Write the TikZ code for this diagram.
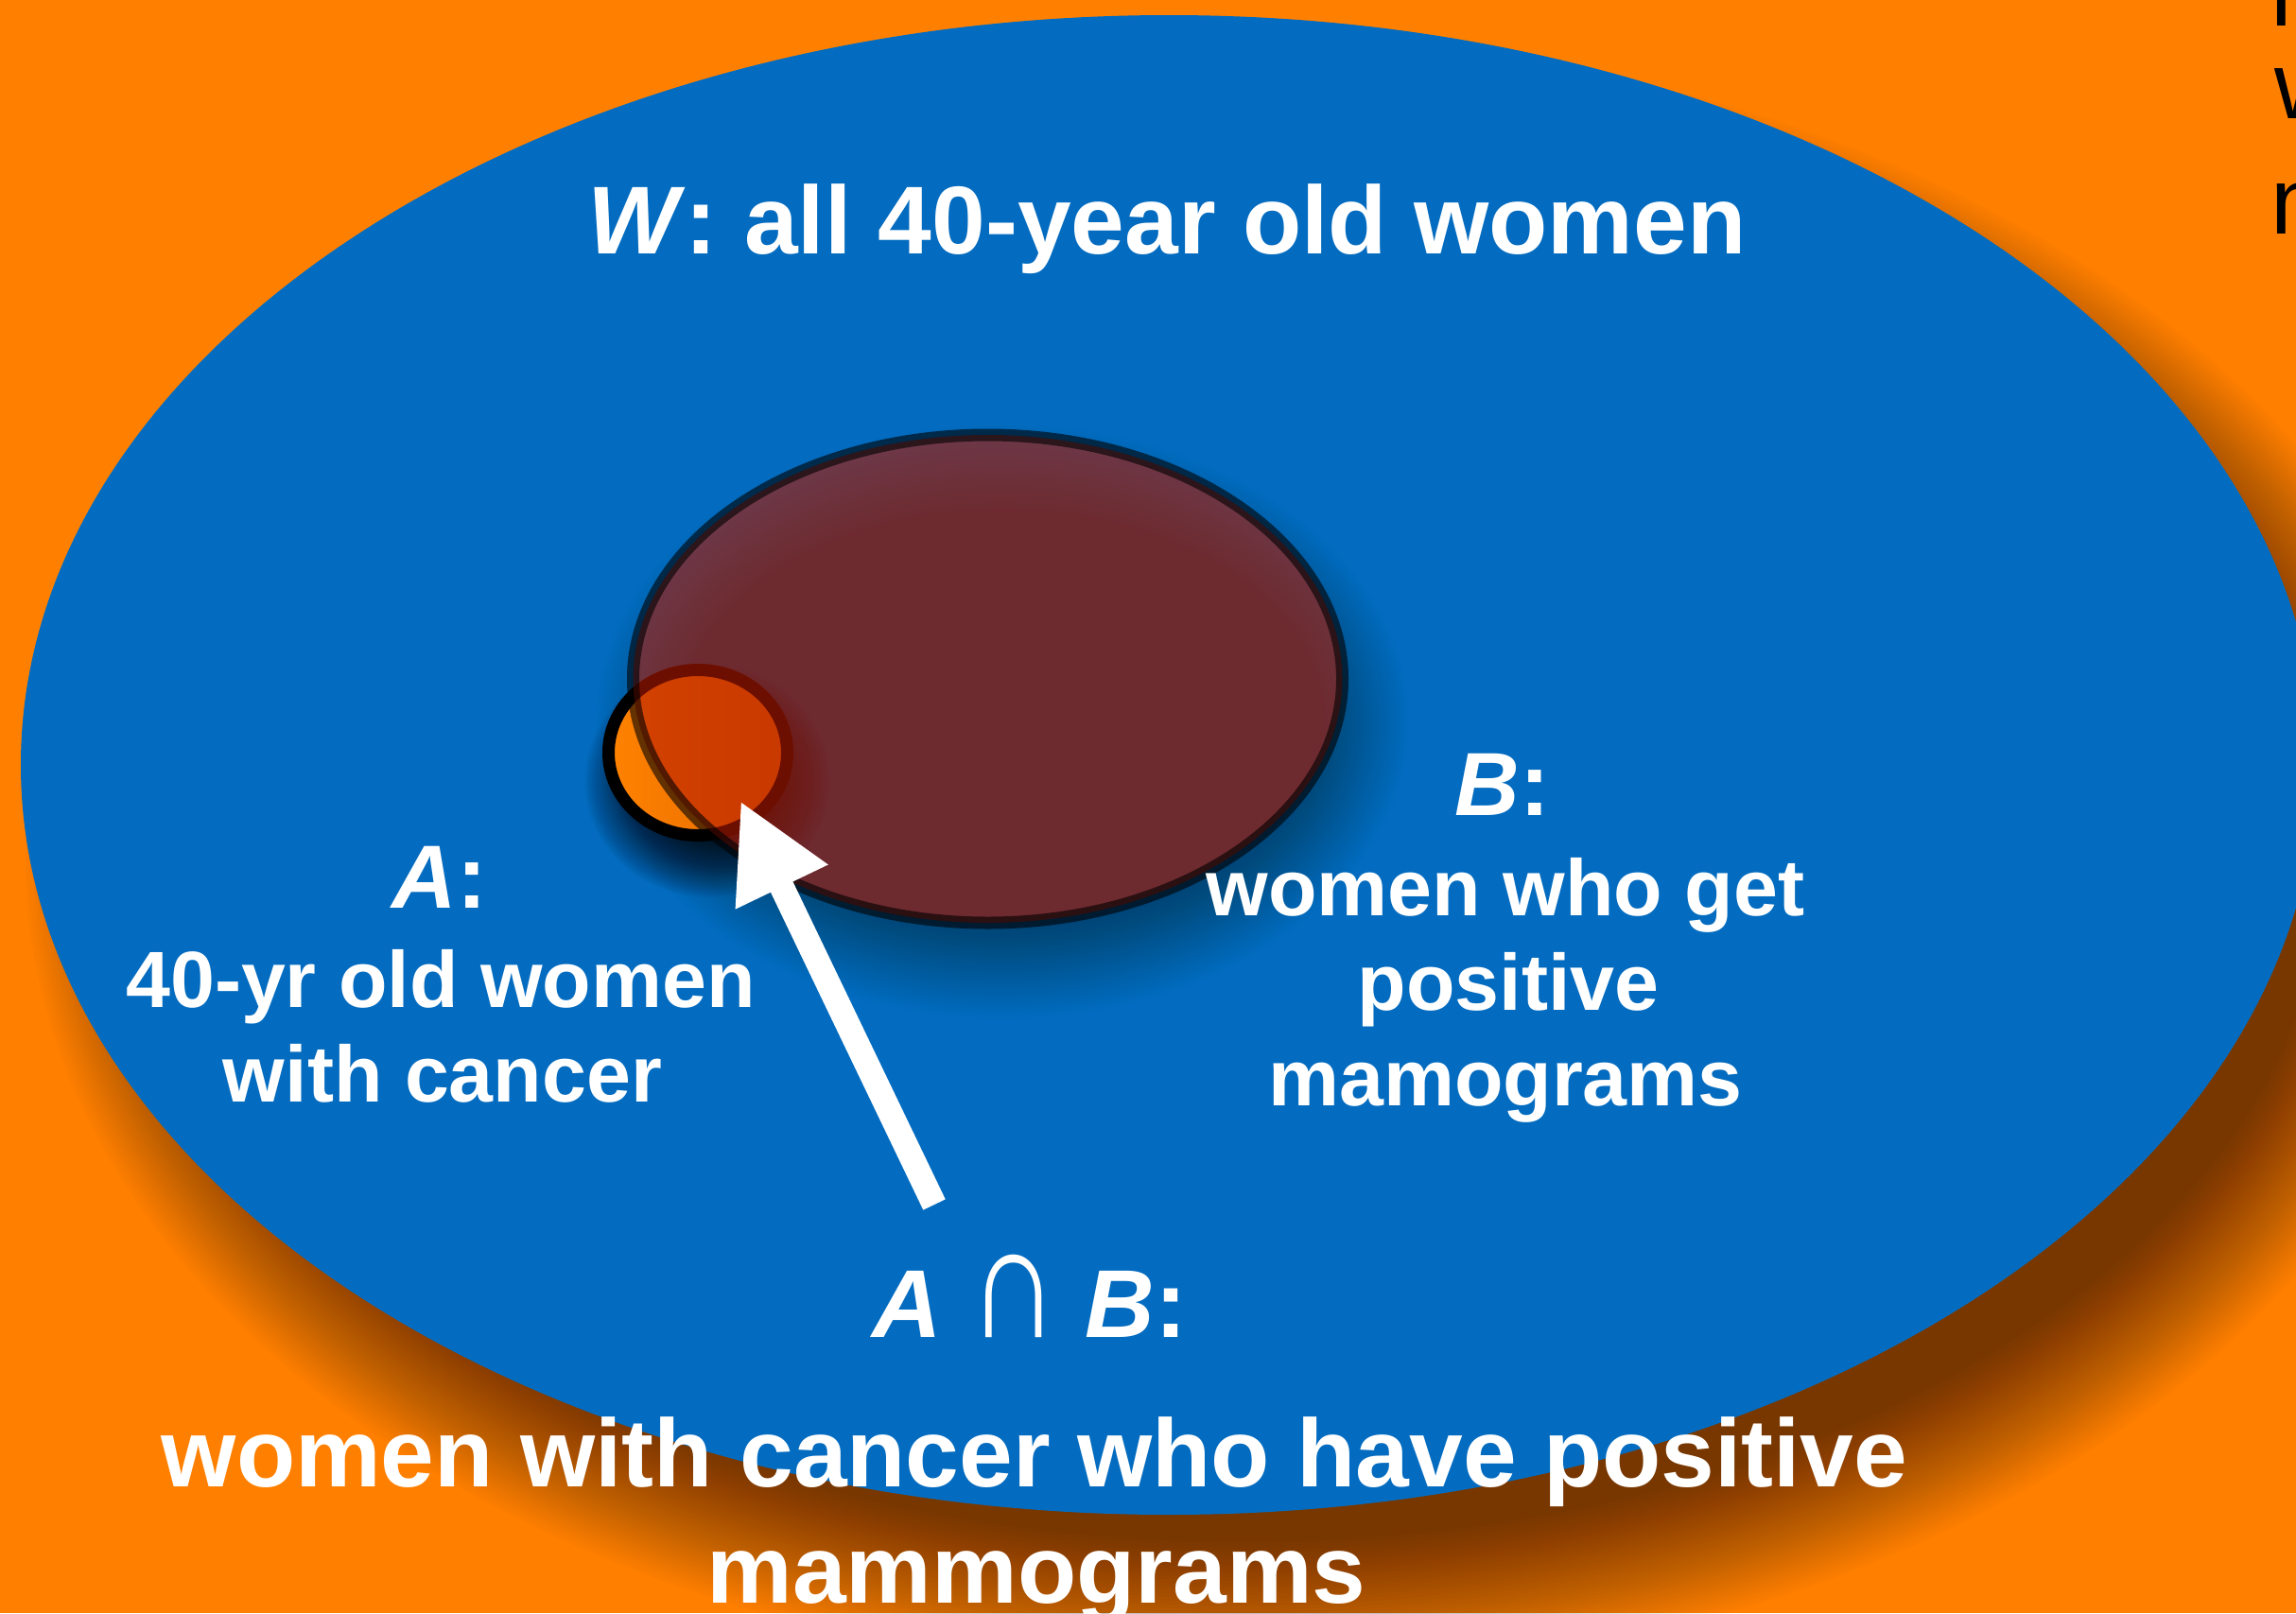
\documentclass[tikz,border=0pt]{standalone}
\usepackage{fontspec}
\usepackage{graphicx}
\setmainfont{Liberation Sans}
\usetikzlibrary{arrows.meta}
\definecolor{bgorange}{RGB}{255,128,0}
\definecolor{wblue}{RGB}{4,108,192}
\definecolor{bred}{RGB}{183,25,0}
\definecolor{aorange}{RGB}{255,130,0}
\definecolor{aorangedark}{RGB}{228,106,0}
% blurred shadow: cx, cy, x radius, y radius, blur, opacity per layer
\newcommand{\myblurshadow}[6]{%
  \foreach \k in {0,...,39}{%
    \pgfmathsetmacro\myrx{#3+#5-\k*#5/20}%
    \pgfmathsetmacro\myry{#4+#5-\k*#5/20}%
    \fill[black,opacity=#6] (#1,#2) ellipse [x radius=\myrx cm, y radius=\myry cm];
  }}
\tikzset{
  bigtext/.style={text=white, inner sep=0pt, anchor=base, font=\bfseries\fontsize{29}{35}\selectfont},
  labtext/.style={text=white, inner sep=0pt, anchor=base, font=\bfseries\fontsize{27}{32}\selectfont},
  bodytext/.style={text=white, inner sep=0pt, anchor=base, font=\bfseries\fontsize{24}{29}\selectfont},
  fragtext/.style={text=black, inner sep=0pt, anchor=base west, font=\fontsize{28.5}{34}\selectfont},
  pointer/.style={draw=white, line width=0.26cm, -{Triangle[length=10.1mm, width=10.1mm]}}
}
\begin{document}
\begin{tikzpicture}
\useasboundingbox (0,0) rectangle (24.28,-17.06);
\begin{scope}
\clip (0,0) rectangle (24.28,-17.06);
\fill[bgorange] (0,0) rectangle (24.28,-17.06);
% W shadow and set
\myblurshadow{13.16}{-9.09}{12.14}{7.93}{0.75}{0.0172}
\fill[wblue] (12.36,-8.09) ellipse [x radius=12.14cm, y radius=7.93cm];
% shadows of B and A
\myblurshadow{10.60}{-7.63}{3.80}{2.64}{0.5}{0.0085}
\myblurshadow{7.48}{-8.26}{1.0}{0.93}{0.3}{0.0226}
% A
\shade[left color=aorange, right color=aorangedark] (7.38,-7.96) ellipse [x radius=0.945cm, y radius=0.875cm];
\draw[black, line width=0.13cm] (7.38,-7.96) ellipse [x radius=0.945cm, y radius=0.875cm];
% B
\fill[bred, opacity=0.6] (10.445,-7.18) ellipse [x radius=3.75cm, y radius=2.58cm];
\draw[black, draw opacity=0.6, line width=0.13cm] (10.445,-7.18) ellipse [x radius=3.75cm, y radius=2.58cm];
% fragments of cut-off text at the right edge
\node[fragtext] (frag1) at (24.01,-0.27) {n};
\node[fragtext] (frag2) at (24.05,-1.25) {w};
\node[fragtext] (frag3) at (24.01,-2.47) {n};
\end{scope}
% arrow
\coordinate (arrowtail) at (9.88,-12.74);
\coordinate (arrowtip) at (7.83,-8.47);
\draw[pointer] (arrowtail) -- (arrowtip);
% texts
\node[bigtext] (wtitle) at (12.34,-2.68) {\textit{W}: all 40-year old women};
\node[labtext] (blab) at (15.89,-8.62) {\textit{B}:};
\node[bodytext] (bline1) at (15.92,-9.68) {women who get};
\node[bodytext] (bline2) at (15.95,-10.68) {positive};
\node[bodytext] (bline3) at (15.92,-11.69) {mamograms};
\node[labtext] (alab) at (4.65,-9.60) {\textit{A}:};
\node[bodytext] (aline1) at (4.66,-10.65) {40-yr old women};
\node[bodytext] (aline2) at (4.68,-11.65) {with cancer};
\node[bigtext] (ablab) at (10.89,-14.14) {\textit{A} {\mdseries\scalebox{1.3}[1.7]{∩}} \textit{B}:};
\node[bigtext] (abline1) at (10.94,-15.72) {women with cancer who have positive};
\node[bigtext] (abline2) at (10.96,-16.95) {mammograms};
\end{tikzpicture}
\end{document}
